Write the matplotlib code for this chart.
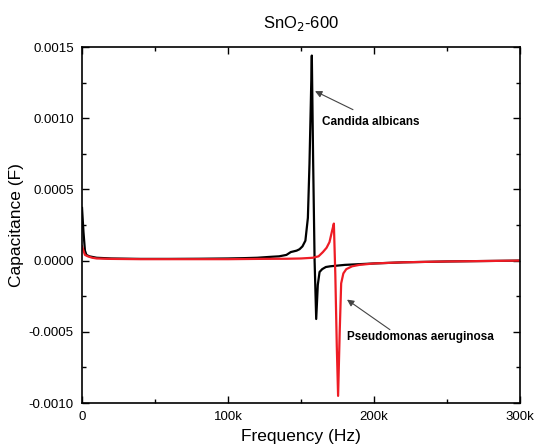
import numpy as np
import matplotlib
matplotlib.use("Agg")
import matplotlib.pyplot as plt
from matplotlib.ticker import FuncFormatter, MultipleLocator

plt.rcParams['font.family'] = ['Liberation Sans', 'DejaVu Sans']

# Candida albicans (black), frequency in kHz, capacitance in F
freq_ca = [0, 1, 2, 3, 5, 10, 20, 40, 60, 80, 100, 110, 120, 130, 135, 140,
           143, 145, 147, 149, 151, 153, 154.7, 155.8, 156.7, 157.4, 158.3,
           159.3, 160.4, 161.5, 162.7, 164.5, 167, 170, 175, 180, 190, 200,
           220, 250, 300]
cap_ca = [0.00037, 0.00020, 0.00007, 0.00004, 0.00003, 0.00002, 0.000015,
          0.000012, 0.000012, 0.000013, 0.000015, 0.000017, 0.00002, 0.000027,
          0.00003, 0.00004, 0.00006, 0.000065, 0.00007, 0.00008, 0.0001,
          0.00014, 0.0003, 0.00068, 0.0011, 0.00144, 0.0007, 0.0000,
          -0.00041, -0.00017, -0.00008, -0.00006, -0.000045, -0.00004,
          -0.000035, -0.00003, -0.000025, -0.00002, -0.000012, -0.000006, 0.0]

# Pseudomonas aeruginosa (red)
freq_pa = [0, 1, 2, 4, 7, 10, 20, 40, 60, 80, 100, 120, 140, 150, 158, 162,
           165, 167.5, 169.5, 171.3, 172.5, 173.5, 174.5, 175.4, 176.5, 177.5,
           179, 181, 185, 190, 200, 220, 250, 300]
cap_pa = [0.0001, 0.00007, 0.00004, 0.00003, 0.00002, 0.000015, 0.000012,
          0.00001, 0.00001, 0.00001, 0.00001, 0.000012, 0.000013, 0.000015,
          0.00002, 0.00003, 0.00006, 0.00009, 0.00013, 0.00021, 0.00026,
          -0.0001, -0.0006, -0.00095, -0.0005, -0.00016, -0.00009, -0.00006,
          -0.00004, -0.00003, -0.00002, -0.000012, -0.000006, 0.0]

fig = plt.figure(figsize=(5.34, 4.46), dpi=100)
ax = fig.add_axes([0.1536, 0.0964, 0.8202, 0.7982])

ax.plot(np.array(freq_ca) * 1000, cap_ca, color='black', lw=1.6)
ax.plot(np.array(freq_pa) * 1000, cap_pa, color='#ee1c25', lw=1.6)

ax.set_xlim(0, 300000)
ax.set_ylim(-0.0010, 0.0015)
ax.xaxis.set_major_locator(MultipleLocator(100000))
ax.xaxis.set_minor_locator(MultipleLocator(50000))
ax.yaxis.set_major_locator(MultipleLocator(0.0005))
ax.yaxis.set_minor_locator(MultipleLocator(0.00025))
ax.xaxis.set_major_formatter(FuncFormatter(
    lambda v, p: '0' if v == 0 else f'{int(v / 1000)}k'))
ax.yaxis.set_major_formatter(FuncFormatter(lambda v, p: f'{v:.4f}'))
ax.tick_params(which='both', direction='in', top=True, right=True,
               labelsize=9.5, width=1.0)
ax.tick_params(which='major', length=5, pad=6)
ax.tick_params(which='minor', length=3)
for s in ax.spines.values():
    s.set_linewidth(1.2)

ax.set_xlabel('Frequency (Hz)', fontsize=12.5, labelpad=4)
ax.set_ylabel('Capacitance (F)', fontsize=12.5, labelpad=3)
ax.set_title('SnO$_2$-600', fontsize=12, pad=14)

arrow = dict(arrowstyle='-|>', color='#444444', lw=0.8, mutation_scale=10,
             shrinkA=0, shrinkB=0)
ax.annotate('', xy=(159600, 0.00119), xytext=(185600, 0.00106),
            arrowprops=arrow)
ax.text(164400, 0.000976, 'Candida albicans', fontsize=8.5,
        fontweight='bold', ha='left', va='center')
ax.annotate('', xy=(181500, -0.000274), xytext=(210900, -0.000485),
            arrowprops=arrow)
ax.text(181500, -0.000534, 'Pseudomonas aeruginosa', fontsize=8.5,
        fontweight='bold', ha='left', va='center')

fig.savefig('out.png', dpi=100)
